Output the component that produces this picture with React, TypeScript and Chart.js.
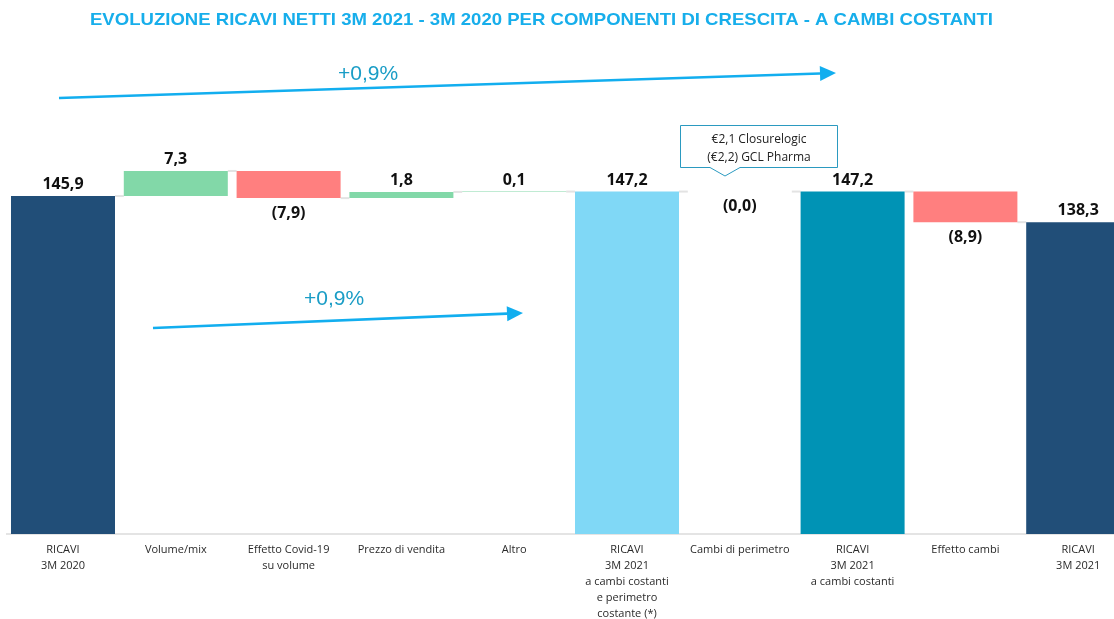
import React, { useEffect, useRef } from "react";
import { Chart, registerables } from "chart.js";
Chart.register(...registerables);

const titleText = "EVOLUZIONE RICAVI NETTI 3M 2021 - 3M 2020 PER COMPONENTI DI CRESCITA - A CAMBI COSTANTI";
const categories: string[][] = [
  ["RICAVI", "3M 2020"],
  ["Volume/mix"],
  ["Effetto Covid-19", "su volume"],
  ["Prezzo di vendita"],
  ["Altro"],
  ["RICAVI", "3M 2021", "a cambi costanti", "e perimetro", "costante (*)"],
  ["Cambi di perimetro"],
  ["RICAVI", "3M 2021", "a cambi costanti"],
  ["Effetto cambi"],
  ["RICAVI", "3M 2021"],
];
const values = [145.9, 7.3, -7.9, 1.8, 0.1, 147.2, -0.0, 147.2, -8.9, 138.3];
const isTotal = [true, false, false, false, false, true, false, true, false, true];
const barColors = ["#214E78", "#82D8A8", "#FF7F7F", "#82D8A8", "#82D8A8", "#80D8F6", "#82D8A8", "#0093B5", "#FF7F7F", "#214E78"];
const growthLabels = ["+0,9%", "+0,9%"];
const calloutLines = ["€2,1 Closurelogic", "(€2,2) GCL Pharma"];
const axisMin = 47.6;
const axisMax = 175;

function buildRanges() {
  const ranges: [number, number][] = [];
  const levels: number[] = [];
  let running = 0;
  values.forEach((v, i) => {
    if (isTotal[i]) {
      ranges.push([axisMin, v]);
      running = v;
    } else {
      const next = Math.round((running + v) * 10) / 10;
      ranges.push([running, next]);
      running = next;
    }
    levels.push(running);
  });
  return { ranges, levels };
}

function fmt(v: number) {
  const neg = v < 0 || Object.is(v, -0);
  const s = Math.abs(v).toFixed(1).replace(".", ",");
  return neg ? `(${s})` : s;
}

function arrow(ctx: CanvasRenderingContext2D, x1: number, y1: number, x2: number, y2: number, color: string) {
  const ang = Math.atan2(y2 - y1, x2 - x1);
  const hl = 16, hw = 7.5;
  const bx = x2 - hl * Math.cos(ang), by = y2 - hl * Math.sin(ang);
  ctx.save();
  ctx.strokeStyle = color;
  ctx.fillStyle = color;
  ctx.lineWidth = 2.6;
  ctx.beginPath();
  ctx.moveTo(x1, y1);
  ctx.lineTo(bx, by);
  ctx.stroke();
  ctx.beginPath();
  ctx.moveTo(x2, y2);
  ctx.lineTo(bx + hw * Math.sin(ang), by - hw * Math.cos(ang));
  ctx.lineTo(bx - hw * Math.sin(ang), by + hw * Math.cos(ang));
  ctx.closePath();
  ctx.fill();
  ctx.restore();
}

export default function App() {
  const ref = useRef<HTMLCanvasElement | null>(null);
  useEffect(() => {
    if (!ref.current) return;
    const { ranges, levels } = buildRanges();

    const overlay = {
      id: "overlay",
      beforeDatasetsDraw(chart: any) {
        const ctx = chart.ctx as CanvasRenderingContext2D;
        const meta = chart.getDatasetMeta(0);
        const ys = chart.scales.y;
        ctx.save();
        ctx.strokeStyle = "#e3e3e3";
        ctx.lineWidth = 2;
        for (let i = 0; i < meta.data.length - 1; i++) {
          const a = meta.data[i], b = meta.data[i + 1];
          const y = ys.getPixelForValue(levels[i]);
          ctx.beginPath();
          ctx.moveTo(a.x + a.width / 2, y);
          ctx.lineTo(b.x - b.width / 2, y);
          ctx.stroke();
        }
        ctx.restore();
      },
      afterDraw(chart: any) {
        const ctx = chart.ctx as CanvasRenderingContext2D;
        const meta = chart.getDatasetMeta(0);
        ctx.save();
        // title (slightly widened to match reference width)
        ctx.save();
        ctx.fillStyle = "#17AEEB";
        ctx.font = "bold 17px 'Liberation Sans', Arial, sans-serif";
        ctx.textAlign = "center";
        ctx.textBaseline = "middle";
        const tw = ctx.measureText(titleText).width;
        const sx = 903 / tw;
        ctx.translate(541.5, 20);
        ctx.scale(sx, 1);
        ctx.fillText(titleText, 0, 0);
        ctx.restore();
        ctx.textAlign = "center";
        ctx.textBaseline = "middle";
        // arrows
        arrow(ctx, 59, 98, 836, 73, "#12AEEF");
        arrow(ctx, 153, 328, 523, 313, "#12AEEF");
        ctx.fillStyle = "#1A9DC6";
        ctx.font = "21px 'Liberation Sans', Arial, sans-serif";
        ctx.fillText(growthLabels[0], 368, 74);
        ctx.fillText(growthLabels[1], 334, 299);
        // callout
        ctx.beginPath();
        ctx.moveTo(680.5, 125.5);
        ctx.lineTo(837.5, 125.5);
        ctx.lineTo(837.5, 167.5);
        ctx.lineTo(740, 167.5);
        ctx.lineTo(725, 176);
        ctx.lineTo(710, 167.5);
        ctx.lineTo(680.5, 167.5);
        ctx.closePath();
        ctx.fillStyle = "#ffffff";
        ctx.fill();
        ctx.strokeStyle = "#2B9AC0";
        ctx.lineWidth = 1;
        ctx.stroke();
        ctx.fillStyle = "#222222";
        ctx.font = "12px 'Open Sans', sans-serif";
        ctx.fillText(calloutLines[0], 759, 140);
        ctx.fillText(calloutLines[1], 759, 158);
        // value labels
        ctx.fillStyle = "#111111";
        ctx.font = "bold 16px 'Open Sans', sans-serif";
        meta.data.forEach((el: any, i: number) => {
          const top = Math.min(el.y, el.base);
          const bottom = Math.max(el.y, el.base);
          const v = values[i];
          const neg = v < 0 || Object.is(v, -0);
          const y = neg ? bottom + 15 : top - 11.5;
          ctx.fillText(fmt(v), el.x, y);
        });
        ctx.restore();
      },
    };

    const chart = new Chart(ref.current, {
      type: "bar",
      data: {
        labels: categories,
        datasets: [
          {
            data: ranges as any,
            backgroundColor: barColors,
            borderWidth: 0,
            barPercentage: 0.922,
            categoryPercentage: 1,
          },
        ],
      },
      options: {
        responsive: false,
        animation: false,
        devicePixelRatio: 1,
        layout: { padding: { top: 96, left: 6.6, right: 1.4, bottom: 0 } },
        plugins: { legend: { display: false }, tooltip: { enabled: false }, title: { display: false } },
        scales: {
          x: {
            grid: { display: false, drawTicks: false },
            border: { display: true, color: "#e4e4e4", width: 2 },
            ticks: {
              color: "#2a2a2a",
              font: { family: "'Open Sans', sans-serif", size: 11, lineHeight: 1.45 },
              padding: 8,
              maxRotation: 0,
              autoSkip: false,
            },
            afterFit: (scale: any) => {
              scale.height = 85;
            },
          },
          y: { display: false, min: axisMin, max: axisMax },
        },
      },
      plugins: [overlay],
    });
    return () => chart.destroy();
  }, []);

  return (
    <div style={{ position: "fixed", left: 0, top: 0, width: 1114, height: 619, overflow: "hidden", background: "#fff" }}>
      <canvas ref={ref} width={1136} height={619} style={{ display: "block", width: 1136, height: 619 }} />
    </div>
  );
}
